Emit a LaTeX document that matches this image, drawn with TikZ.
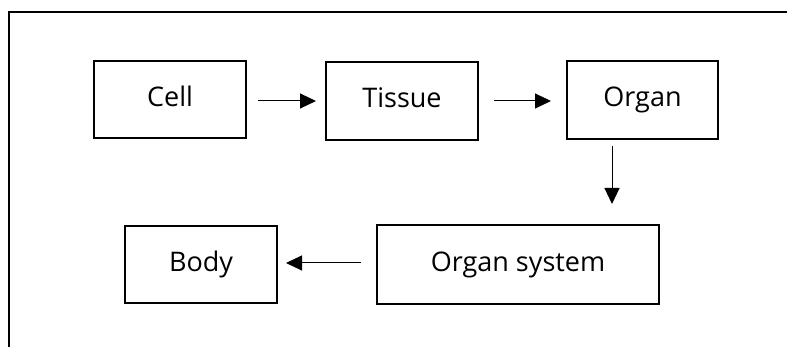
\documentclass[tikz,border=0pt]{standalone}
\usepackage{fontspec}
\setmainfont{Open Sans}
\usetikzlibrary{arrows.meta}
\begin{document}
\begin{tikzpicture}[x=1pt,y=1pt,
  box/.style={draw=black,line width=2pt,minimum height=77pt,inner sep=0pt,text height=20pt,text depth=6pt,font=\fontsize{27}{32}\selectfont},
  conn/.style={line width=1pt,-{Triangle[length=16pt,width=15pt]}}]
\useasboundingbox (0,0) rectangle (787,-347);
\draw[line width=2pt] (9,-347) -- (9,-12) -- (787,-12);
\node[box,minimum width=152pt] (cell) at (170,-99.5) {Cell};
\node[box,minimum width=152pt,minimum height=78pt] (tissue) at (402,-101) {Tissue};
\node[box,minimum width=151pt,minimum height=78pt] (organ) at (642.5,-100) {Organ};
\node[box,minimum width=282pt,minimum height=79pt] (osys) at (518,-264.5) {Organ system};
\node[box,minimum width=152pt] (body) at (201,-264.5) {Body};
\draw[conn] ([xshift=11pt,yshift=-1.5pt]cell.east) -- ([xshift=-9pt]tissue.west);
\draw[conn] ([xshift=15pt]tissue.east) -- ([xshift=-15pt,yshift=-1pt]organ.west);
\draw[conn] ([xshift=-30.5pt,yshift=-6pt]organ.south) -- ([xshift=94pt,yshift=20pt]osys.north);
\draw[conn] ([xshift=-15pt,yshift=1.5pt]osys.west) -- ([xshift=8pt,yshift=1.5pt]body.east);
\end{tikzpicture}
\end{document}
